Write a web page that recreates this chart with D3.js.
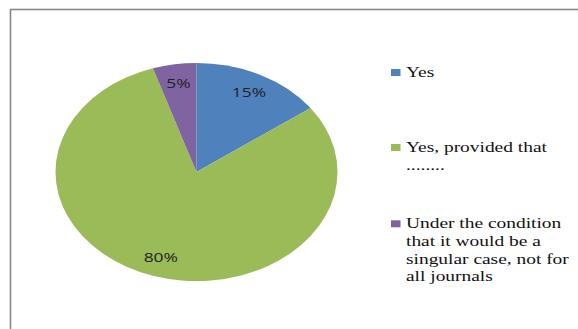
<!DOCTYPE html>
<html>
<head>
<meta charset="utf-8">
<script src="https://cdn.jsdelivr.net/npm/d3@7"></script>
<style>
  body { margin: 0; background: #fff; }
  svg { display: block; }
</style>
</head>
<body>
<script>
// Data
const categories = ['Yes', 'Yes, provided that ........', 'Under the condition that it would be a singular case, not for all journals'];
const values = [15, 80, 5];
const pctLabels = ['15%', '80%', '5%'];
const legendLines = [
  ['Yes'],
  ['Yes, provided that', '........'],
  ['Under the condition', 'that it would be a', 'singular case, not for', 'all journals']
];
const colors = ['#4F81BD', '#9BBB59', '#8064A2'];

const width = 578, height = 329;
// the original picture is stretched sideways, so text is too
const stretch = 1.34;

const svg = d3.select('body').append('svg')
  .attr('width', width)
  .attr('height', height);

// Chart frame (runs past the right and bottom edges)
svg.append('rect')
  .attr('x', 10.5).attr('y', 9.5)
  .attr('width', 700).attr('height', 400)
  .attr('fill', '#fff')
  .attr('stroke', '#888')
  .attr('stroke-width', 1.6);

// Pie is drawn as a circle then stretched to an ellipse
const cx = 196.5, cy = 172, rx = 141, ry = 109;

const pie = d3.pie().sort(null).value(d => d);
const arcs = pie(values);
const arc = d3.arc().innerRadius(0).outerRadius(100);
const labelArc = d3.arc().innerRadius(82).outerRadius(82);

const g = svg.append('g')
  .attr('transform', `translate(${cx},${cy})`);

g.append('g')
  .attr('transform', `scale(${rx / 100},${ry / 100})`)
  .selectAll('path')
  .data(arcs)
  .enter().append('path')
  .attr('d', arc)
  .attr('fill', (d, i) => colors[i]);

// Slice labels
g.selectAll('text.pct')
  .data(arcs)
  .enter().append('text')
  .attr('class', 'pct')
  .attr('transform', d => {
    const [x, y] = labelArc.centroid(d);
    return `translate(${x * rx / 100},${y * ry / 100}) scale(${stretch},1)`;
  })
  .attr('dy', '0.35em')
  .attr('text-anchor', 'middle')
  .attr('font-family', '"Open Sans", "Liberation Sans", sans-serif')
  .attr('font-size', 13)
  .attr('fill', '#222')
  .text((d, i) => pctLabels[i]);

// Legend
const legendTop = [77, 152, 228.3];
const legend = svg.append('g');

categories.forEach((c, i) => {
  const item = legend.append('g');
  item.append('rect')
    .attr('x', 391).attr('y', legendTop[i] - 8)
    .attr('width', 9.5).attr('height', 7)
    .attr('fill', colors[i]);
  item.append('text')
    .attr('transform', `translate(406,${legendTop[i]}) scale(${stretch},1)`)
    .attr('font-family', '"Liberation Serif", "Times New Roman", serif')
    .attr('font-size', 14.5)
    .attr('fill', '#111')
    .selectAll('tspan')
    .data(legendLines[i])
    .enter().append('tspan')
    .attr('x', 0)
    .attr('dy', (d, j) => j === 0 ? 0 : 17.7)
    .text(d => d);
});
</script>
</body>
</html>
